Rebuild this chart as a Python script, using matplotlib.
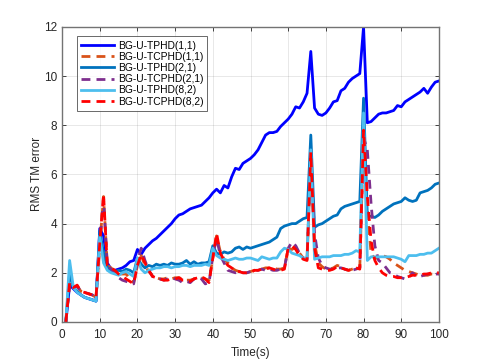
import matplotlib
matplotlib.use("Agg")
import matplotlib.pyplot as plt
import numpy as np

plt.rcParams['font.family'] = ['Liberation Sans', 'DejaVu Sans']

time = list(range(1, 101))

tphd_11 = [0, 1.5, 1.35, 1.2, 1.1, 1.0, 0.95, 0.9, 0.85, 3.8,
           3.5, 2.4, 2.15, 2.1, 2.15, 2.2, 2.3, 2.45, 2.5, 2.95,
           2.75, 3.0, 3.15, 3.3, 3.4, 3.55, 3.7, 3.85, 4.0, 4.2,
           4.35, 4.4, 4.5, 4.6, 4.65, 4.7, 4.75, 4.9, 5.05, 5.25,
           5.4, 5.25, 5.55, 5.45, 5.9, 6.25, 6.2, 6.45, 6.55, 6.65,
           6.8, 7.0, 7.3, 7.6, 7.7, 7.7, 7.75, 7.95, 8.1, 8.25,
           8.45, 8.75, 8.7, 8.95, 9.3, 11.0, 8.7, 8.45, 8.4, 8.5,
           8.7, 8.95, 9.0, 9.4, 9.5, 9.75, 9.9, 10.0, 10.1, 12.0,
           8.1, 8.15, 8.3, 8.45, 8.5, 8.5, 8.55, 8.6, 8.8, 8.75,
           8.95, 9.05, 9.15, 9.25, 9.35, 9.5, 9.3, 9.55, 9.75, 9.8]

tcphd_11 = [0, 1.55, 1.45, 1.45, 1.25, 1.2, 1.15, 1.1, 1.0, 3.1,
            5.1, 2.3, 2.2, 2.05, 1.95, 1.95, 1.95, 1.75, 1.6, 2.3,
            2.7, 2.3, 2.05, 1.9, 1.8, 1.75, 1.75, 1.8, 1.75, 1.8,
            1.8, 1.75, 1.7, 1.7, 1.75, 1.8, 1.8, 1.75, 1.7, 2.6,
            3.5, 2.85, 2.55, 2.4, 2.2, 2.1, 2.05, 2.05, 2.0, 2.05,
            2.1, 2.15, 2.15, 2.2, 2.2, 2.2, 2.15, 2.15, 2.2, 3.0,
            2.95, 3.05, 2.8, 2.6, 2.5, 6.8, 3.2, 2.4, 2.25, 2.15,
            2.15, 2.2, 2.3, 2.25, 2.15, 2.1, 2.15, 2.2, 2.2, 7.6,
            4.5, 2.8, 2.55, 2.7, 2.7, 2.65, 2.55, 2.4, 2.3, 2.2,
            2.1, 2.05, 2.0, 1.95, 1.9, 1.9, 1.9, 1.95, 1.95, 1.95]

tphd_21 = [0, 2.0, 1.4, 1.25, 1.1, 1.0, 0.95, 0.9, 0.85, 3.7,
           2.8, 2.2, 2.1, 2.05, 2.1, 2.05, 2.15, 2.1, 2.0, 2.6,
           2.35, 2.2, 2.3, 2.25, 2.35, 2.3, 2.35, 2.3, 2.4, 2.35,
           2.35, 2.4, 2.5, 2.35, 2.45, 2.35, 2.4, 2.4, 2.45, 3.1,
           2.8, 2.75, 2.85, 2.8, 2.85, 3.0, 3.05, 2.95, 3.05, 3.0,
           3.05, 3.1, 3.15, 3.2, 3.25, 3.35, 3.45, 3.8, 3.9, 3.95,
           4.0, 4.0, 4.1, 4.2, 4.25, 7.6, 3.85, 3.95, 4.0, 4.1,
           4.2, 4.3, 4.35, 4.6, 4.7, 4.75, 4.8, 4.85, 4.9, 9.1,
           4.3, 4.3, 4.25, 4.35, 4.5, 4.6, 4.7, 4.8, 4.85, 4.9,
           5.05, 4.95, 4.9, 4.95, 5.25, 5.3, 5.35, 5.45, 5.6, 5.65]

tcphd_21 = [0, 1.6, 1.4, 1.45, 1.25, 1.2, 1.15, 1.1, 1.0, 3.2,
            5.0, 2.3, 2.15, 2.0, 1.8, 1.7, 1.65, 1.6, 1.55, 2.5,
            3.0, 2.5, 2.1, 1.85, 1.8, 1.75, 1.7, 1.75, 1.8, 1.75,
            1.7, 1.6, 1.65, 1.6, 1.75, 1.8, 1.75, 1.55, 1.6, 2.7,
            3.4, 2.7, 2.4, 2.1, 2.05, 2.0, 2.05, 2.0, 2.0, 2.05,
            2.1, 2.1, 2.15, 2.1, 2.15, 2.1, 2.1, 2.15, 2.2, 3.0,
            3.25, 3.1, 2.8, 2.6, 2.55, 6.5, 3.6, 2.6, 2.3, 2.2,
            2.15, 2.15, 2.2, 2.2, 2.15, 2.1, 2.1, 2.15, 2.2, 7.5,
            7.0, 4.8, 3.1, 2.5, 2.4, 2.2, 2.0, 1.95, 1.85, 1.8,
            1.75, 1.8, 2.0, 1.85, 1.85, 1.9, 1.95, 1.95, 1.95, 1.95]

tphd_82 = [0, 2.5, 1.4, 1.2, 1.1, 1.0, 0.95, 0.9, 0.85, 3.5,
           2.4, 2.1, 2.0, 1.95, 1.9, 2.0, 2.05, 1.95, 1.85, 2.6,
           2.15, 2.0, 2.1, 2.15, 2.2, 2.2, 2.25, 2.25, 2.2, 2.25,
           2.25, 2.3, 2.3, 2.25, 2.3, 2.3, 2.3, 2.35, 2.3, 3.0,
           2.7, 2.6, 2.55, 2.5, 2.55, 2.6, 2.55, 2.55, 2.6, 2.6,
           2.55, 2.5, 2.65, 2.6, 2.55, 2.6, 2.6, 2.85, 3.0, 2.95,
           2.8, 2.75, 2.7, 2.6, 2.6, 7.0, 2.55, 2.6, 2.65, 2.65,
           2.65, 2.7, 2.7, 2.7, 2.75, 2.75, 2.8, 2.9, 2.85, 8.5,
           2.5, 2.65, 2.65, 2.65, 2.65, 2.65, 2.65, 2.65, 2.6, 2.55,
           2.45, 2.7, 2.7, 2.7, 2.75, 2.75, 2.8, 2.8, 2.9, 3.0]

tcphd_82 = [0, 1.6, 1.4, 1.5, 1.25, 1.2, 1.15, 1.1, 1.0, 3.2,
            5.2, 2.3, 2.2, 2.1, 1.95, 1.85, 1.75, 1.65, 1.55, 2.3,
            2.75, 2.4, 2.1, 1.85, 1.8, 1.75, 1.7, 1.7, 1.75, 1.75,
            1.8, 1.7, 1.7, 1.65, 1.75, 1.8, 1.85, 1.75, 1.6, 2.6,
            3.6, 2.8, 2.5, 2.3, 2.2, 2.05, 2.05, 2.0, 2.0, 2.0,
            2.1, 2.1, 2.15, 2.15, 2.2, 2.15, 2.1, 2.1, 2.15, 3.0,
            3.1, 2.95, 2.7, 2.55, 2.5, 6.9, 3.0, 2.2, 2.15, 2.1,
            2.1, 2.15, 2.25, 2.2, 2.15, 2.1, 2.15, 2.2, 2.15, 7.8,
            5.1, 3.3, 2.5, 2.2, 2.0, 1.9, 1.85, 1.85, 1.8, 1.8,
            1.8, 1.85, 1.9, 1.9, 1.9, 1.95, 1.95, 2.0, 2.0, 2.0]

labels = ['BG-U-TPHD(1,1)', 'BG-U-TCPHD(1,1)', 'BG-U-TPHD(2,1)',
          'BG-U-TCPHD(2,1)', 'BG-U-TPHD(8,2)', 'BG-U-TCPHD(8,2)']
x_ticks = list(range(0, 101, 10))
y_ticks = list(range(0, 13, 2))

series = [tphd_11, tcphd_11, tphd_21, tcphd_21, tphd_82, tcphd_82]
colors = [(0, 0, 1), (0.85, 0.325, 0.098), (0, 0.447, 0.741),
          (0.494, 0.184, 0.556), (0.302, 0.745, 0.933), (1, 0, 0)]
dashed = [False, True, False, True, False, True]

fig = plt.figure(figsize=(4.85, 3.63), dpi=100)
ax = fig.add_axes([0.128, 0.113, 0.777, 0.813])

for s, c, d, lab in zip(series, colors, dashed, labels):
    if d:
        ax.plot(time, s, color=c, lw=2.0, linestyle=(0, (3.2, 2.2)), label=lab)
    else:
        ax.plot(time, s, color=c, lw=2.0, label=lab)

ax.set_xlim(0, 100)
ax.set_ylim(0, 12)
ax.set_xticks(x_ticks)
ax.set_yticks(y_ticks)
ax.grid(True, color=(0.15, 0.15, 0.15), alpha=0.12, lw=0.6)
ax.tick_params(direction='in', length=3, width=0.6, labelsize=8.5,
               colors=(0.15, 0.15, 0.15), top=True, right=True)
ax.tick_params(axis='x', pad=5)
ax.tick_params(axis='y', pad=3.5)
for sp in ax.spines.values():
    sp.set_color((0.45, 0.45, 0.45))
    sp.set_linewidth(1.0)
ax.set_xlabel('Time(s)', fontsize=8.5, color=(0.15, 0.15, 0.15))
ax.set_ylabel('RMS TM error', fontsize=8.5, color=(0.15, 0.15, 0.15))
ax.xaxis.set_label_coords(0.5, -0.085)
ax.yaxis.set_label_coords(-0.05, 0.5)

leg = ax.legend(loc='upper left', fontsize=7.4, frameon=True, fancybox=False,
                edgecolor=(0.15, 0.15, 0.15), handlelength=3.2, handletextpad=0.4,
                labelspacing=0.12, borderpad=0.4, bbox_to_anchor=(0.025, 0.985))
leg.get_frame().set_linewidth(0.6)

fig.savefig('out.png', dpi=100)
